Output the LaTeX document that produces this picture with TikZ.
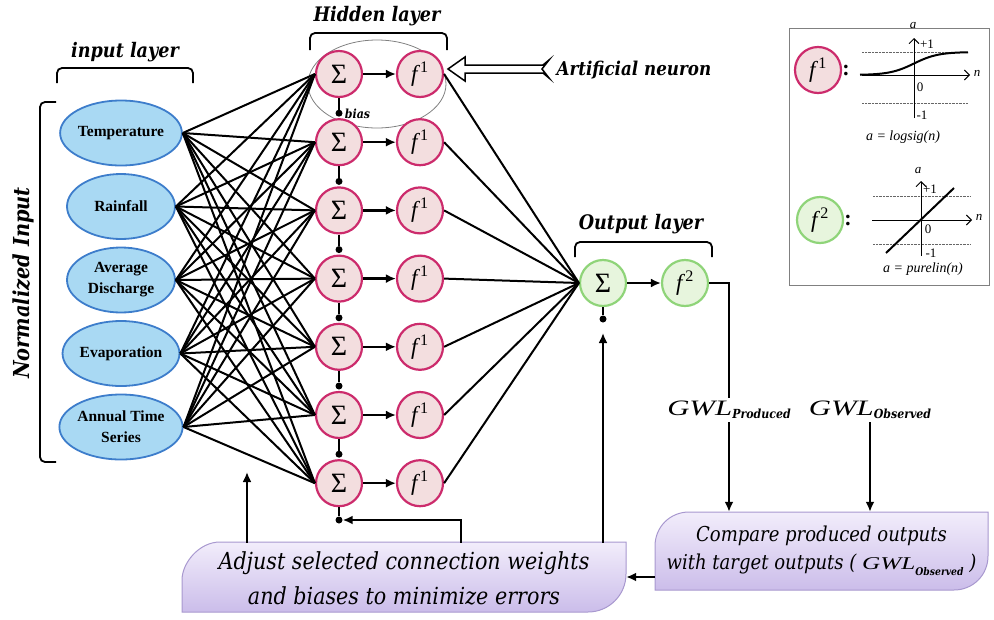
\documentclass[tikz,border=0pt]{standalone}
\usepackage{fontspec}
\setmainfont{Liberation Serif}
\newfontfamily\capfont[FakeStretch=0.88]{DejaVu Serif}
\newfontfamily\gwlfont[FakeStretch=1.4]{Liberation Serif}
\usetikzlibrary{arrows.meta,shapes.geometric}

\definecolor{inblue}{HTML}{A9D9F3}
\definecolor{inedge}{HTML}{3D7DCB}
\definecolor{hidfill}{HTML}{F3DEDF}
\definecolor{hidedge}{HTML}{CC2B6C}
\definecolor{outfill}{HTML}{E7F5DD}
\definecolor{outedge}{HTML}{8FD479}
\definecolor{boxtop}{HTML}{F2EDFB}
\definecolor{boxbot}{HTML}{CBBDEA}
\definecolor{boxedge}{HTML}{A898CF}

% GWL with a bold subscript: {size}{subscript size}{subscript}
\newcommand{\gwl}[3]{{\gwlfont\itshape\fontsize{#1}{#1}\selectfont GWL}\raisebox{-0.3em}{\capfont\bfseries\itshape\fontsize{#2}{#2}\selectfont #3}}
\newcommand{\fact}[1]{\textit{f}\textsuperscript{#1}}

\tikzset{
    inputnode/.style={ellipse, draw=inedge, line width=1.8pt, fill=inblue, minimum width=108pt, minimum height=65pt, inner sep=0pt, align=center, font=\bfseries\fontsize{15.5}{21}\selectfont},
    hidnode/.style={circle, draw=hidedge, line width=2.2pt, fill=hidfill, minimum size=46pt, inner sep=0pt},
    outnode/.style={circle, draw=outedge, line width=2.2pt, fill=outfill, minimum size=46pt, inner sep=0pt},
    sumtxt/.style={font=\fontsize{28}{28}\selectfont},
    acttxt/.style={font=\fontsize{23}{23}\selectfont},
    biasdot/.style={circle, fill=black, inner sep=0pt, minimum size=7pt},
    wire/.style={line width=2pt},
    flow/.style={line width=2.3pt, -{Latex[length=10pt, width=9pt]}},
    layerlabel/.style={font=\capfont\bfseries\itshape\fontsize{20}{22}\selectfont},
    brace/.style={line width=1.8pt, rounded corners=5pt},
    boxshape/.style={draw=boxedge, line width=1pt, top color=boxtop, bottom color=boxbot},
    boxtext/.style={inner sep=0pt, align=center},
    keytext/.style={font=\fontsize{13}{13}\selectfont, inner sep=1pt},
}

\begin{document}
\begin{tikzpicture}[x=1pt, y=-1pt]
    \useasboundingbox (0, 0) rectangle (994, 619);
    %\draw[lightgray] (0, 0) grid[step=50] (994, 619);

    % input layer
    \foreach \txt [count=\i] in {Temperature, Rainfall, {Average\\Discharge}, Evaporation, {Annual Time\\Series}}
        \node[inputnode] (in\i) at (121, {133+73.5*(\i-1)}) {\txt};
    \draw[brace] (57, 83) -- (57, 68) -- (193, 68) -- (193, 83);
    \node[layerlabel] (inlbl) at (125, 52) {input layer};
    \draw[brace] (56, 102) -- (40, 102) -- (40, 462) -- (56, 462);
    \node[layerlabel, rotate=90, font=\capfont\bfseries\itshape\fontsize{22}{22}\selectfont] (normlbl) at (23, 283) {Normalized Input};

    % hidden layer
    \node[ellipse, draw=gray, line width=0.8pt, minimum width=138pt, minimum height=88pt] (neuron) at (377, 84) {};
    \foreach \j in {1,...,7} {
        \node[hidnode, sumtxt] (sum\j) at (339, {74+68.2*(\j-1)}) {Σ};
        \node[hidnode, acttxt] (act\j) at (420, {74+68.2*(\j-1)}) {\fact{1}};
        \draw[flow] (sum\j) -- (act\j);
    }
    \draw[brace] (310, 50) -- (310, 33) -- (447, 33) -- (447, 50);
    \node[layerlabel] (hidlbl) at (377, 16) {Hidden layer};

    % bias dots
    \foreach \k in {2,...,7}
        \node[biasdot] (b\k) at (339, {74+68.2*(\k-1)-29}) {};
    \node[biasdot] (b8) at (339, 520) {};
    \foreach \j [evaluate=\j as \k using int(\j+1)] in {1,...,7}
        \draw[wire] (sum\j.south) -- (b\k);
    \node[font=\capfont\bfseries\itshape\fontsize{12.5}{13}\selectfont, anchor=west, inner sep=2pt] (biaslbl) at ([yshift=-1pt]b2.east) {bias};

    % weights
    \foreach \i in {1,...,5}
        \foreach \j in {1,...,7}
            \draw[wire] (in\i.east) -- (sum\j.west);

    % output layer
    \node[outnode, sumtxt] (osum) at (603, 283) {Σ};
    \node[outnode, acttxt] (f2) at (685, 283) {\fact{2}};
    \draw[flow] (osum) -- (f2);
    \foreach \j in {1,...,7}
        \draw[wire] (act\j.east) -- (osum.west);
    \node[biasdot] (ob) at (603, 319) {};
    \draw[wire] (osum.south) -- (ob);
    \draw[brace] (575, 257) -- (575, 242) -- (712, 242) -- (712, 257);
    \node[layerlabel] (outlbl) at (641, 224) {Output layer};

    % artificial neuron pointer
    \node[font=\capfont\bfseries\itshape\fontsize{19}{20}\selectfont, anchor=west] (artlbl) at (553, 70) {Artificial neuron};
    \coordinate (ntip) at (448, 69);
    \draw[line width=1.5pt, fill=white, line join=miter] (ntip) -- ++(17, -12) -- ++(0, 8) -- ++(78, 0) -- ++(6, -5) -- ++(-7, 9) -- ++(7, 9) -- ++(-6, -5) -- ++(-78, 0) -- ++(0, 8) -- cycle;

    % transfer functions
    \node[draw=gray, line width=1pt, minimum width=200pt, minimum height=257pt, inner sep=0pt] (keybox) at (889, 156.5) {};
    \node[hidnode, acttxt] (key1) at (818, 70) {\fact{1}};
    \node[font=\bfseries\fontsize{22}{22}\selectfont] (col1) at (846, 70) {:};
    \draw[densely dotted, gray!80!black] (862, 52) -- (968, 52);
    \draw[densely dotted, gray!80!black] (862, 103) -- (968, 103);
    \draw[line width=0.9pt, -{Straight Barb[length=5pt]}] (914, 118) -- (914, 38);
    \draw[line width=0.9pt, -{Straight Barb[length=5pt]}] (862, 75) -- (970, 75);
    \draw[line width=2pt, domain=-54:54, samples=40, smooth] plot ({914+\x}, {75-23/(1+exp(-\x/12))});
    \node[keytext, font=\itshape\fontsize{13}{13}\selectfont] (a1) at (913, 26) {a};
    \node[keytext] (p1) at (927, 44) {+1};
    \node[keytext] (z1) at (920, 87) {0};
    \node[keytext] (m1) at (922, 115) {-1};
    \node[keytext, font=\itshape\fontsize{13}{13}\selectfont] (n1) at (977, 73) {n};
    \node[keytext, font=\itshape\fontsize{14}{14}\selectfont] (eq1) at (903, 137) {a = logsig(n)};

    \node[outnode, acttxt] (key2) at (820, 220) {\fact{2}};
    \node[font=\bfseries\fontsize{22}{22}\selectfont] (col2) at (848, 220) {:};
    \draw[densely dotted, gray!80!black] (873, 196) -- (970, 196);
    \draw[densely dotted, gray!80!black] (873, 244) -- (970, 244);
    \draw[line width=0.9pt, -{Straight Barb[length=5pt]}] (921, 256) -- (921, 181);
    \draw[line width=0.9pt, -{Straight Barb[length=5pt]}] (872, 220) -- (972, 220);
    \draw[line width=2pt] (886, 253) -- (954, 188);
    \node[keytext, font=\itshape\fontsize{13}{13}\selectfont] (a2) at (918, 171) {a};
    \node[keytext] (p2) at (930, 189) {+1};
    \node[keytext] (z2) at (928, 229) {0};
    \node[keytext] (m2) at (931, 253) {-1};
    \node[keytext, font=\itshape\fontsize{13}{13}\selectfont] (n2) at (979, 217) {n};
    \node[keytext, font=\itshape\fontsize{14}{14}\selectfont] (eq2) at (923, 269) {a = purelin(n)};

    % training loop boxes
    \draw[boxshape] (182, 612) -- (182, 580) .. controls (182, 563) and (199, 542) .. (220, 542) -- (626, 542) -- (626, 574) .. controls (626, 595) and (609, 612) .. (588, 612) -- cycle;
    \node[boxtext, minimum width=444pt, minimum height=70pt, font=\capfont\itshape\fontsize{23.5}{35}\selectfont] (adjust) at (404, 578) {Adjust selected connection weights\\and biases to minimize errors};
    \draw[boxshape] (655, 590) -- (655, 546) .. controls (655, 527) and (670, 512) .. (689, 512) -- (988, 512) -- (988, 556) .. controls (988, 575) and (973, 590) .. (954, 590) -- cycle;
    \node[boxtext, minimum width=333pt, minimum height=78pt, font=\capfont\itshape\fontsize{20.5}{28}\selectfont] (compare) at (821.5, 551) {Compare produced outputs\\with target outputs ( \gwl{18}{10.5}{Observed} )};

    % targets and errors
    \node[inner sep=3pt] (gwlp) at (729, 410) {\gwl{22}{12.5}{Produced}};
    \node[inner sep=3pt] (gwlo) at (870, 410) {\gwl{22}{12.5}{Observed}};
    \draw[wire] (f2.east) -| (gwlp.north);
    \draw[flow] (gwlp.south) -- (gwlp.south |- compare.north);
    \draw[flow] (gwlo.south) -- (gwlo.south |- compare.north);
    \coordinate (cmp) at (655, 577);
    \draw[flow] (cmp) -- (cmp -| adjust.east);

    % feedback to the weights and biases
    \coordinate (wtip) at (247, 472);
    \draw[flow] (adjust.north -| wtip) -- (wtip);
    \coordinate (otip) at (603, 333);
    \draw[flow] (adjust.north -| otip) -- (otip);
    \coordinate (fb) at (461, 520);
    \draw[flow] (adjust.north -| fb) -- (fb) -- (b8);
\end{tikzpicture}
\end{document}
